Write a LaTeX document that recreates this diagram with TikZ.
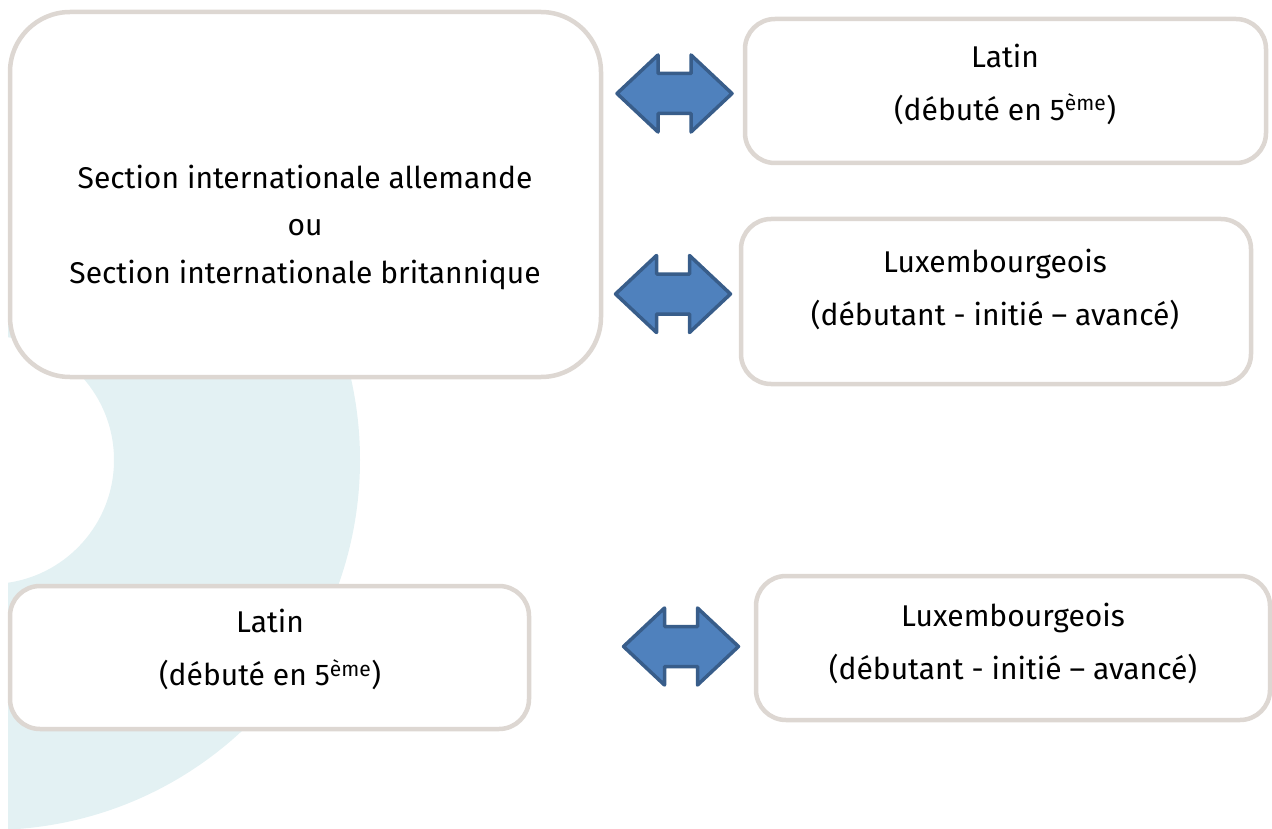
\documentclass[tikz,border=0pt]{standalone}
\usepackage{fontspec}
\setmainfont{Fira Sans}

\definecolor{boxline}{RGB}{221,215,210}
\definecolor{ringbg}{RGB}{227,241,243}
\definecolor{arrowfill}{RGB}{79,129,189}
\definecolor{arrowline}{RGB}{56,93,138}

\begin{document}
\begin{tikzpicture}[x=1pt,y=-1pt,
  section node/.style={draw=boxline,fill=white,line width=4.5pt,rounded corners=60pt,inner sep=0pt},
  lang node/.style={draw=boxline,fill=white,line width=4.5pt,rounded corners=30pt,inner sep=0pt},
  label text/.style={align=center,inner sep=0pt,font=\fontsize{30pt}{53pt}\selectfont},
  swap arrow/.pic={
    \draw[draw=arrowline,fill=arrowfill,line width=3.5pt,line join=round]
      (-57.5,0) -- (-16.5,-38.5) -- (-16.5,-20) -- (16.5,-20) -- (16.5,-38.5) -- (57.5,0)
      -- (16.5,38.5) -- (16.5,20) -- (-16.5,20) -- (-16.5,38.5) -- cycle;}]

  \useasboundingbox (0,0) rectangle (1272,829);

  % pale ring behind the boxes
  \begin{scope}
    \clip (8,0) rectangle (1272,829);
    \fill[ringbg,even odd rule] (-10,460) circle (370pt) (-10,460) circle (124pt);
  \end{scope}

  % boxes
  \node[section node,minimum width=591pt,minimum height=365pt] (SI) at (305.5,194.5) {};
  \node[lang node,minimum width=521pt,minimum height=144pt] (LA1) at (1005.5,91) {};
  \node[lang node,minimum width=510pt,minimum height=165pt] (LU1) at (996,301.5) {};
  \node[lang node,minimum width=519pt,minimum height=143pt] (LA2) at (269.5,657.5) {};
  \node[lang node,minimum width=514pt,minimum height=144pt] (LU2) at (1013,648) {};

  % texts
  \node[label text,font=\fontsize{30pt}{47.5pt}\selectfont] (tSI) at (305,227)
    {Section internationale allemande\\ou\\Section internationale britannique};
  \node[label text] (tLA1) at (1005,84) {Latin\\(débuté en 5\textsuperscript{ème})};
  \node[label text] (tLU1) at (995,289) {Luxembourgeois\\(débutant - initié – avancé)};
  \node[label text] (tLA2) at (270,649) {Latin\\(débuté en 5\textsuperscript{ème})};
  \node[label text] (tLU2) at (1013,643) {Luxembourgeois\\(débutant - initié – avancé)};

  % arrows between boxes
  \pic (A1) at (674.5,93.5) {swap arrow};
  \pic (A2) at (673,294) {swap arrow};
  \pic (A3) at (681,646.5) {swap arrow};
\end{tikzpicture}
\end{document}
